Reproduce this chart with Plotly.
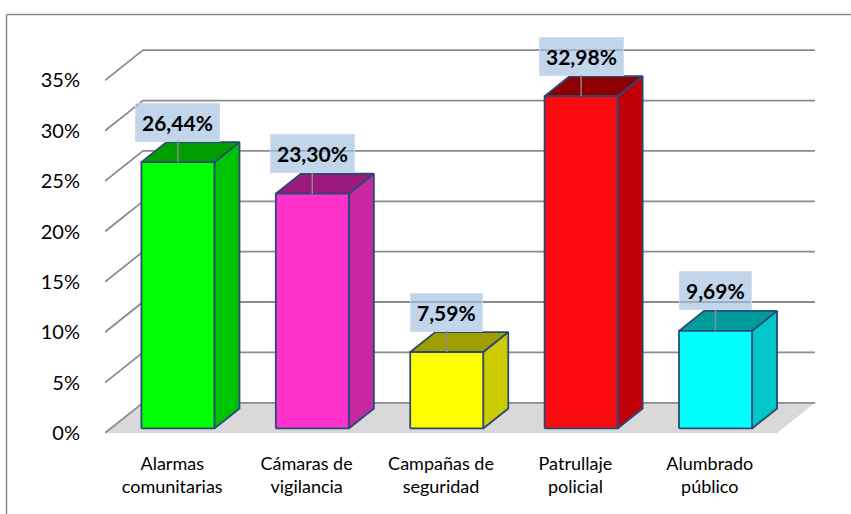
import plotly.graph_objects as go

# ---- data ----
categories = ["Alarmas<br>comunitarias", "Cámaras de<br>vigilancia", "Campañas de<br>seguridad",
              "Patrullaje<br>policial", "Alumbrado<br>público"]
values = [26.44, 23.30, 7.59, 32.98, 9.69]
value_labels = ["26,44%", "23,30%", "7,59%", "32,98%", "9,69%"]
y_ticks = [0, 5, 10, 15, 20, 25, 30, 35]
y_ticktext = ["0%", "5%", "10%", "15%", "20%", "25%", "30%", "35%"]

front_colors = ["#00FF00", "#FF33CC", "#FFFF00", "#FA0A0E", "#00FFFF"]
side_colors = ["#00C400", "#C8289F", "#CCCC00", "#C00008", "#00C8C8"]
top_colors = ["#009E00", "#9C1A7E", "#9E9E00", "#8E0000", "#009C9C"]

# ---- 3D geometry (in axis units) ----
n = len(values)
DX = 0.2827      # depth offset along x (category units)
DY = 3.0         # depth offset along y (percent units)
D0, D1 = 0.15, 0.81
BW = 0.543
outline = "#2A4A75"

fig = go.Figure()

# floor
fig.add_trace(go.Scatter(x=[0, n, n + DX, DX, 0], y=[0, 0, DY, DY, 0], mode="lines",
                         fill="toself", fillcolor="#D9D9D9", line=dict(width=0),
                         hoverinfo="skip", showlegend=False))

# gridlines (left wall diagonal + back wall)
gx, gy = [], []
for t in y_ticks:
    gx += [0, DX, n + DX, None]
    gy += [t, t + DY, t + DY, None]
fig.add_trace(go.Scatter(x=gx, y=gy, mode="lines", line=dict(color="#8C8C8C", width=1.8),
                         hoverinfo="skip", showlegend=False))

# bars
for i, v in enumerate(values):
    c = i + 0.5
    xl = c - BW / 2 + D0 * DX
    xr = c + BW / 2 + D0 * DX
    yb = D0 * DY
    yt = v + D0 * DY
    ddx = (D1 - D0) * DX
    ddy = (D1 - D0) * DY
    faces = [
        ([xr, xr + ddx, xr + ddx, xr, xr], [yb, yb + ddy, yt + ddy, yt, yb], side_colors[i]),
        ([xl, xr, xr + ddx, xl + ddx, xl], [yt, yt, yt + ddy, yt + ddy, yt], top_colors[i]),
        ([xl, xr, xr, xl, xl], [yb, yb, yt, yt, yb], front_colors[i]),
    ]
    for fx, fy, col in faces:
        fig.add_trace(go.Scatter(x=fx, y=fy, mode="lines", fill="toself", fillcolor=col,
                                 line=dict(color=outline, width=1.8),
                                 hoverinfo="skip", showlegend=False))
    fig.add_annotation(x=c + D0 * DX, y=yt, xref="x", yref="y", text="<b>" + value_labels[i] + "</b>",
                       showarrow=True, arrowhead=0, arrowwidth=1.4, arrowcolor="#8C8C8C",
                       ax=0, ay=-40, standoff=0,
                       bgcolor="rgba(160,190,224,0.65)", bordercolor="rgba(205,220,238,0.9)",
                       borderwidth=1, borderpad=6,
                       font=dict(family="Lato", size=21, color="#000000"))

# outer chart border
fig.add_shape(type="line", xref="paper", yref="paper", x0=-98.5 / 710, x1=-98.5 / 710,
              y0=1 + 15.5 / 403, y1=-90 / 403, line=dict(color="#8C8C8C", width=1.5))
fig.add_shape(type="line", xref="paper", yref="paper", x0=-98.5 / 710, x1=(851 - 105 + 10) / 710,
              y0=1 + 15.5 / 403, y1=1 + 15.5 / 403, line=dict(color="#8C8C8C", width=1.5))

fig.update_layout(
    width=851, height=514,
    margin=dict(l=105, r=36, t=30, b=81),
    paper_bgcolor="white", plot_bgcolor="white",
    font=dict(family="Lato", color="#000000"),
    xaxis=dict(range=[0, n + DX], tickvals=[i + 0.5 for i in range(n)], ticktext=categories,
               showgrid=False, zeroline=False, showline=False,
               ticks="outside", ticklen=14, tickcolor="rgba(0,0,0,0)",
               tickfont=dict(size=18, family="Lato")),
    yaxis=dict(range=[0, 40], tickvals=y_ticks, ticktext=y_ticktext,
               showgrid=False, zeroline=False, showline=False,
               ticks="outside", ticklen=20, tickcolor="rgba(0,0,0,0)",
               tickfont=dict(size=20, family="Lato")),
    showlegend=False,
)

fig.write_html("out.html", config={"displayModeBar": False},
               post_script="document.body.style.margin='0';document.body.style.overflow='hidden';")
